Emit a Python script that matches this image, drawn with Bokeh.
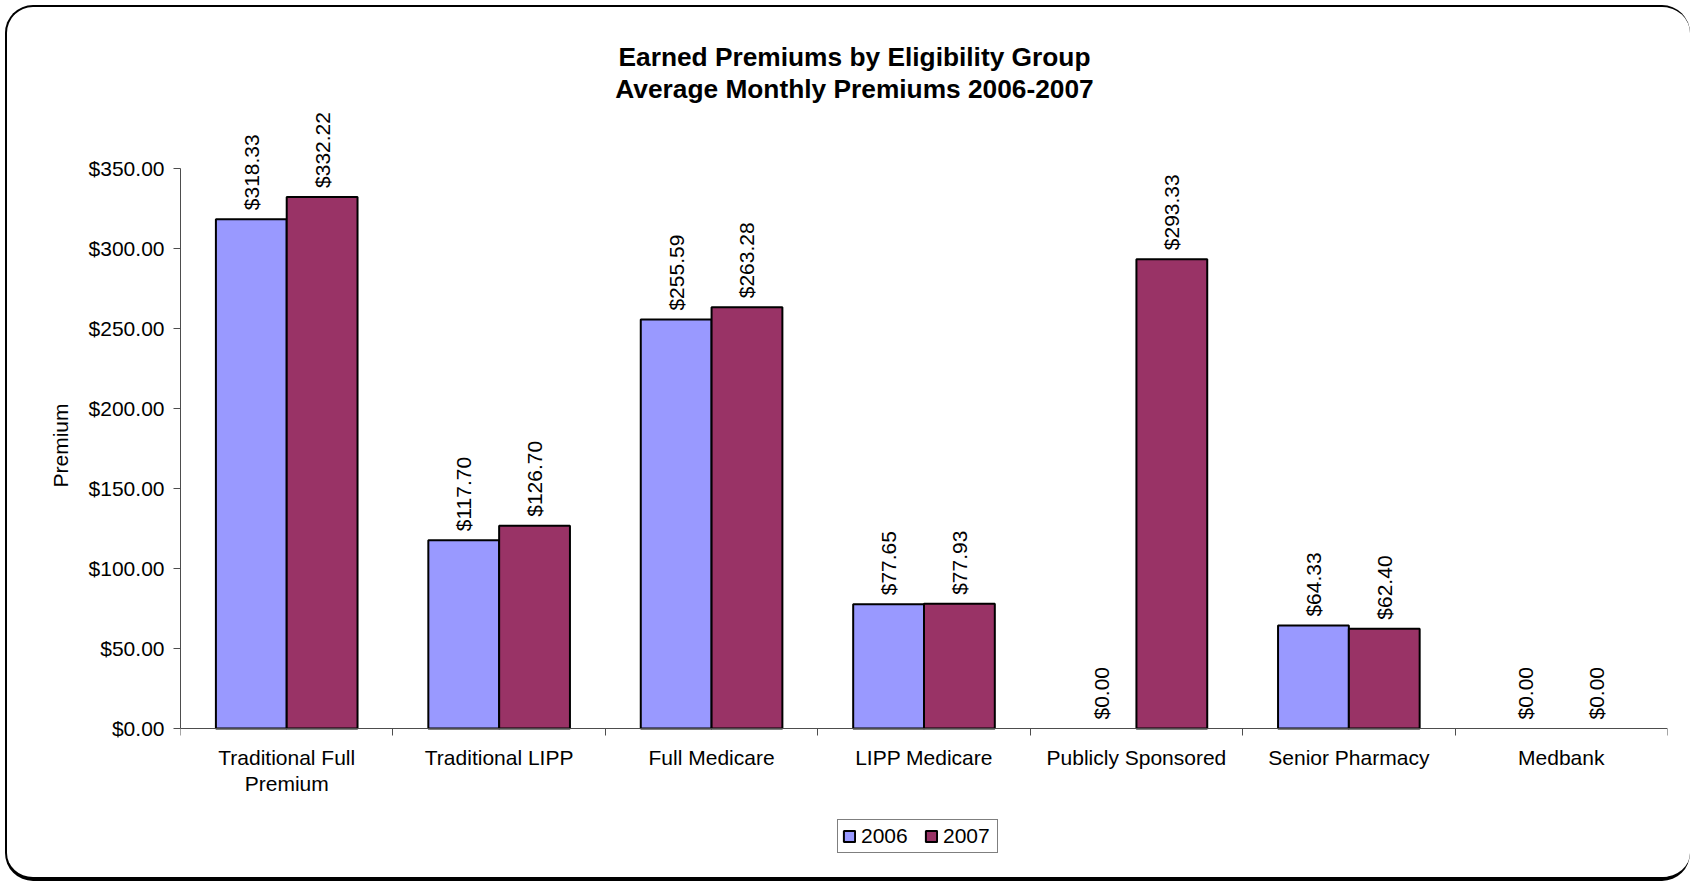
from math import pi

from bokeh.core.properties import value
from bokeh.embed import file_html
from bokeh.models import (BooleanFilter, CDSView, ColumnDataSource, FactorRange,
                          FixedTicker, Label, LabelSet, Legend, LegendItem, LinearAxis,
                          NumeralTickFormatter, Range1d)
from bokeh.plotting import figure
from bokeh.resources import INLINE
from bokeh.transform import dodge

# ---------------- data ----------------
categories = ["Traditional Full Premium", "Traditional LIPP", "Full Medicare",
              "LIPP Medicare", "Publicly Sponsored", "Senior Pharmacy", "Medbank"]
category_line1 = ["Traditional Full", "Traditional LIPP", "Full Medicare",
                  "LIPP Medicare", "Publicly Sponsored", "Senior Pharmacy", "Medbank"]
category_line2 = ["Premium", "", "", "", "", "", ""]
series = ["2006", "2007"]
premiums_2006 = [318.33, 117.70, 255.59, 77.65, 0.00, 64.33, 0.00]
premiums_2007 = [332.22, 126.70, 263.28, 77.93, 293.33, 62.40, 0.00]
y_ticks = [0, 50, 100, 150, 200, 250, 300, 350]
title_lines = ["Earned Premiums by Eligibility Group",
               "Average Monthly Premiums 2006-2007"]
y_label = "Premium"

# ---------------- style / layout constants ----------------
FONT = "Liberation Sans"
COL_2006 = "#9999FF"
COL_2007 = "#993366"
AXIS_COL = "#4d4d4d"

W, H = 1685, 876            # canvas size
LEFT, RIGHT = 173, 25       # frame borders (px)
Y_ZERO_PX, Y_TOP_PX = 721, 161   # canvas rows of value 0 and of the top tick
y_max = y_ticks[-1]
units_per_px = y_max / (Y_ZERO_PX - Y_TOP_PX)
y_start = -(H - Y_ZERO_PX) * units_per_px
y_end = y_max + Y_TOP_PX * units_per_px
cat_px = (W - LEFT - RIGHT) / len(categories)
title_x = (847 - LEFT) / cat_px
title_top_px = [34.0, 66.5]      # canvas rows of the top of each title line
title_y = [(Y_ZERO_PX - t) * units_per_px for t in title_top_px]

source = ColumnDataSource(dict(
    category=categories,
    line1=category_line1,
    line2=category_line2,
    v2006=premiums_2006,
    v2007=premiums_2007,
    t2006=[f"${v:,.2f}" for v in premiums_2006],
    t2007=[f"${v:,.2f}" for v in premiums_2007],
))

p = figure(x_range=FactorRange(*categories), y_range=Range1d(y_start, y_end),
           width=W, height=H, output_backend="svg", toolbar_location=None,
           x_axis_location=None, y_axis_location=None,
           min_border_left=LEFT, min_border_right=RIGHT, min_border_top=0,
           min_border_bottom=0)
p.outline_line_color = None
p.background_fill_color = "white"
p.border_fill_color = None
p.xgrid.grid_line_color = None
p.ygrid.grid_line_color = None
p.styles = {"border": "2px solid black", "border-bottom-width": "4px",
            "border-right-width": "0px", "border-radius": "28px",
            "overflow": "hidden", "margin-left": "5px", "margin-top": "5px"}

# ---------------- y axis ----------------
yaxis = LinearAxis(ticker=FixedTicker(ticks=y_ticks),
                   formatter=NumeralTickFormatter(format="$0,0.00"),
                   axis_label=y_label, bounds=(0, y_max))
yaxis.axis_line_color = AXIS_COL
yaxis.major_tick_line_color = AXIS_COL
yaxis.major_tick_in = 0
yaxis.major_tick_out = 7
yaxis.minor_tick_line_color = None
yaxis.major_label_standoff = 9
yaxis.major_label_text_font = FONT
yaxis.major_label_text_font_size = "21px"
yaxis.major_label_text_color = "black"
yaxis.axis_label_text_font = FONT
yaxis.axis_label_text_font_size = "21px"
yaxis.axis_label_text_font_style = "normal"
yaxis.axis_label_text_color = "black"
yaxis.axis_label_standoff = 14
p.add_layout(yaxis, "left")

# ---------------- x axis: category-boundary ticks at value 0 ----------------
slot_axis = LinearAxis(ticker=FixedTicker(ticks=list(range(len(categories) + 1))),
                       fixed_location=0)
slot_axis.axis_line_color = AXIS_COL
slot_axis.major_tick_line_color = AXIS_COL
slot_axis.major_tick_in = 0
slot_axis.major_tick_out = 7
slot_axis.minor_tick_line_color = None
slot_axis.major_label_overrides = {i: "" for i in range(len(categories) + 1)}
slot_axis.major_label_text_font_size = "0px"
slot_axis.major_label_standoff = 0
p.add_layout(slot_axis, "below")

# category names under the axis (each line centred)
for col, off in (("line1", -17), ("line2", -43.5)):
    p.add_layout(LabelSet(x="category", y=0, text=col, source=source,
                          text_align="center", text_baseline="top", y_offset=off,
                          text_font=value(FONT), text_font_size="21px",
                          text_color="black"))

# ---------------- bars ----------------
view06 = CDSView(filter=BooleanFilter([v > 0 for v in premiums_2006]))
view07 = CDSView(filter=BooleanFilter([v > 0 for v in premiums_2007]))
r06 = p.vbar(x=dodge("category", -1 / 6, range=p.x_range), top="v2006", width=1 / 3,
             source=source, view=view06, fill_color=COL_2006, line_color="black",
             line_width=2)
r07 = p.vbar(x=dodge("category", 1 / 6, range=p.x_range), top="v2007", width=1 / 3,
             source=source, view=view07, fill_color=COL_2007, line_color="black",
             line_width=2)

# ---------------- value labels ----------------
for col, off in (("2006", -1 / 6), ("2007", 1 / 6)):
    p.add_layout(LabelSet(x=dodge("category", off, range=p.x_range), y="v" + col,
                          text="t" + col, source=source, angle=pi / 2,
                          text_align="left", text_baseline="middle", y_offset=9,
                          text_font=value(FONT), text_font_size="21px",
                          text_color="black"))

# ---------------- title ----------------
for line, ty in zip(title_lines, title_y):
    p.add_layout(Label(x=title_x, y=ty, text=line, text_align="center",
                       text_baseline="top", text_font=FONT,
                       text_font_size="26.3px", text_font_style="bold",
                       text_color="black"))

# ---------------- legend ----------------
legend = Legend(items=[LegendItem(label=series[0], renderers=[r06]),
                       LegendItem(label=series[1], renderers=[r07])],
                orientation="horizontal", location=(830 - LEFT, H - 846))
legend.label_text_font = FONT
legend.label_text_font_size = "21px"
legend.label_text_color = "black"
legend.glyph_width = 14
legend.glyph_height = 14
legend.label_standoff = 5
legend.label_width = 50
legend.spacing = 13
legend.padding = 4
legend.margin = 0
legend.border_line_color = "black"
legend.border_line_width = 1
legend.background_fill_color = "white"
legend.background_fill_alpha = 1
p.add_layout(legend, "center")

open("out.html", "w").write(file_html(p, INLINE))
